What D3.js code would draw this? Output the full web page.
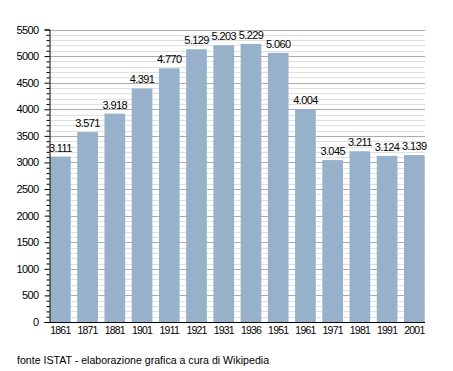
<!DOCTYPE html>
<html><head><meta charset="utf-8">
<script src="https://cdn.jsdelivr.net/npm/d3@7"></script>
<style>body{margin:0;background:#fff}svg{display:block}text{font-family:"Liberation Sans",Arial,sans-serif}</style>
</head><body>
<script>
const years = ["1861","1871","1881","1901","1911","1921","1931","1936","1951","1961","1971","1981","1991","2001"];
const population = [3111,3571,3918,4391,4770,5129,5203,5229,5060,4004,3045,3211,3124,3139];
const yTicks = [0,500,1000,1500,2000,2500,3000,3500,4000,4500,5000,5500];
const sourceNote = "fonte ISTAT - elaborazione grafica a cura di Wikipedia";

(function(){
const W=453,H=371;
const svg=d3.select("body").append("svg").attr("width",W).attr("height",H);
const mLeft=49,mRight=425,mTop=29.5,mBottom=322;
const y=d3.scaleLinear().domain([0,5500]).range([mBottom,mTop]);
const x=d3.scaleBand().domain(years).range([50,424.7]).paddingInner(0.24).paddingOuter(0);

// gridlines
const minor=d3.range(100,5501,100);
svg.append("g").selectAll("line").data(minor).join("line")
  .attr("x1",mLeft).attr("x2",mRight)
  .attr("y1",d=>Math.round(y(d))+0.5).attr("y2",d=>Math.round(y(d))+0.5)
  .attr("stroke",d=>d%500===0?"#acacac":"#e0e0e0").attr("stroke-width",1);

// bars
svg.append("g").selectAll("rect").data(population).join("rect")
  .attr("x",(d,i)=>x(years[i])).attr("width",x.bandwidth())
  .attr("y",d=>y(d)).attr("height",d=>mBottom-y(d))
  .attr("fill","#97b1cb");

// value labels
svg.append("g").selectAll("text").data(population).join("text")
  .attr("x",(d,i)=>x(years[i])+x.bandwidth()/2).attr("y",d=>y(d)-5)
  .attr("text-anchor","middle").attr("font-size",11).attr("letter-spacing",-0.6).attr("fill","#000")
  .text(d=>d3.format(",")(d).replace(",","."));

// y axis
const yAxis=d3.axisLeft(y).tickValues(yTicks).tickSize(5).tickPadding(6).tickFormat(d3.format("d"));
const gy=svg.append("g").attr("transform",`translate(${mLeft+0.5},0)`).call(yAxis);
gy.select(".domain").attr("stroke","#000");
gy.selectAll("text").attr("font-size",11).attr("letter-spacing",-0.6).attr("font-family","'Liberation Sans',Arial,sans-serif");
const yMinor=d3.axisLeft(y).tickValues(minor.filter(d=>d%500!==0)).tickSize(3).tickFormat("");
const gm=svg.append("g").attr("transform",`translate(${mLeft+0.5},0)`).call(yMinor);
gm.select(".domain").remove();

// x axis
const xAxis=d3.axisBottom(x).tickSize(0).tickPadding(4);
const gx=svg.append("g").attr("transform",`translate(0,${mBottom+0.5})`).call(xAxis);
gx.select(".domain").attr("d",`M${mLeft},0H${mRight}`).attr("stroke","#000");
gx.selectAll("text").attr("font-size",10.5).attr("letter-spacing",-0.8).attr("font-family","'Liberation Sans',Arial,sans-serif");

svg.append("text").attr("x",17).attr("y",364).attr("font-size",10.6).text(sourceNote);
})();
</script>
</body></html>
